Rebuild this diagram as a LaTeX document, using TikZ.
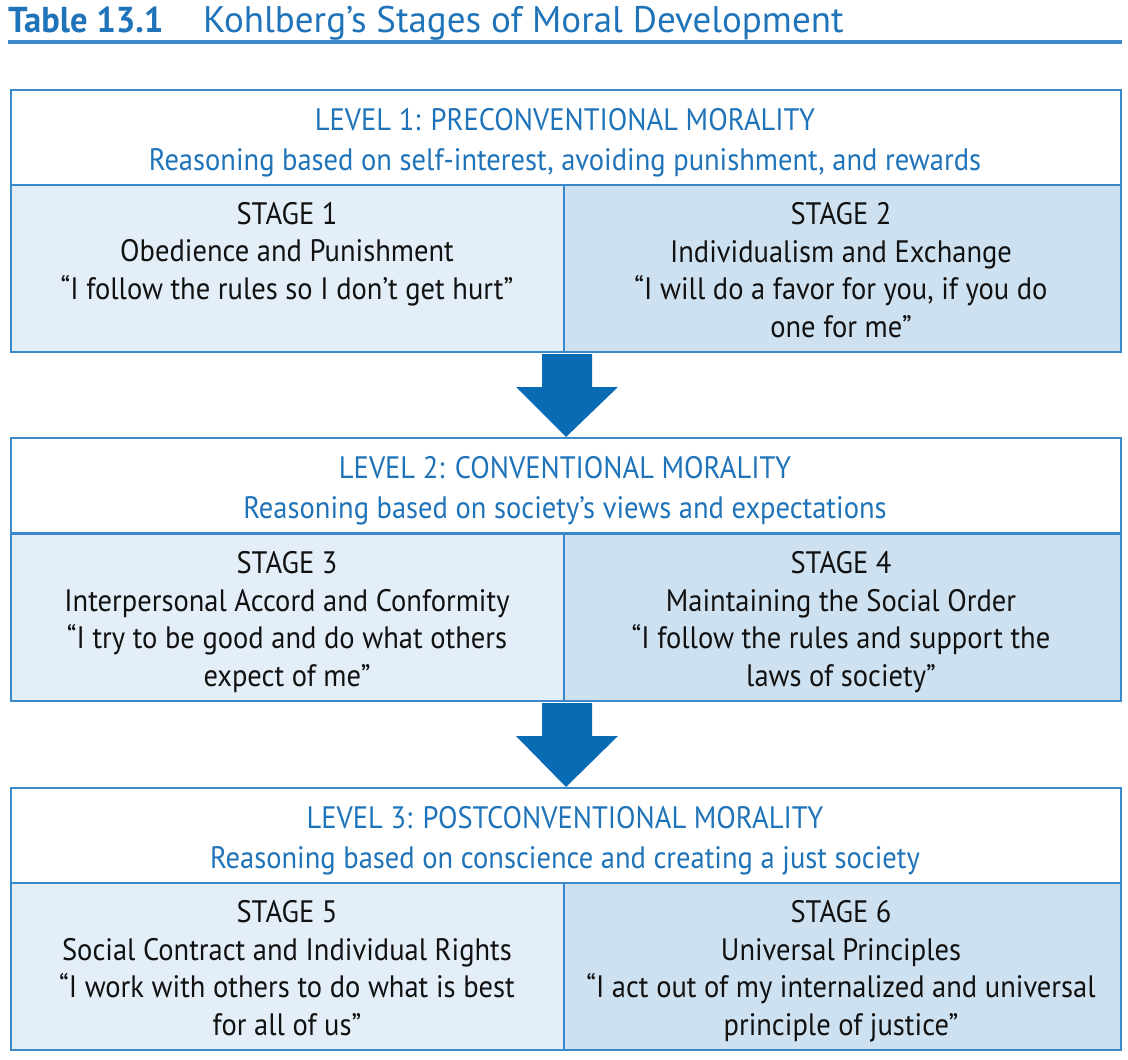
\documentclass[tikz,border=0pt]{standalone}
\usepackage{fontspec}
\setmainfont{PT Sans}
\newfontfamily\condfont[FakeStretch=0.92]{PT Sans}
\newfontfamily\titlebold[FakeStretch=0.96]{PT Sans Bold}
\usetikzlibrary{calc}
\definecolor{tblue}{HTML}{1F73B9}
\definecolor{bblue}{HTML}{3A89CA}
\definecolor{ablue}{HTML}{0A6BB5}
\definecolor{lfill}{HTML}{E4EEF8}
\definecolor{rfill}{HTML}{CEE1F0}
\definecolor{ink}{HTML}{111111}
\tikzset{
  hdrbox/.style={draw=bblue, line width=2pt, fill=white, anchor=north west, minimum width=1110pt, minimum height=95pt, inner sep=0pt},
  lcell/.style={draw=bblue, line width=2pt, fill=lfill, anchor=north west, minimum width=553pt, minimum height=167pt, inner sep=0pt},
  rcell/.style={draw=bblue, line width=2pt, fill=rfill, anchor=north west, minimum width=557pt, minimum height=167pt, inner sep=0pt},
  hdrtext/.style={text=tblue, align=center, font=\condfont\fontsize{31}{40}\selectfont, anchor=base, inner sep=0pt},
  stgtext/.style={text=ink, align=center, font=\condfont\fontsize{31}{37.5}\selectfont, anchor=base, inner sep=0pt},
  downarrow/.style={fill=ablue, draw=none}
}
\begin{document}
\begin{tikzpicture}[x=1pt,y=-1pt]
\useasboundingbox (0,0) rectangle (1128,1060);
% title
\node[anchor=base west, inner sep=0pt, text=tblue, font=\titlebold\fontsize{36}{40}\selectfont] (tnum) at (8,32) {Table 13.1};
\node[anchor=base west, inner sep=0pt, text=tblue, font=\fontsize{37}{40}\selectfont] (ttl) at (203,32) {Kohlberg’s Stages of Moral Development};
\coordinate (ulL) at (8,42);
\coordinate (ulR) at (1122,42);
\draw[bblue, line width=4pt] (ulL) -- (ulR);

% level 1
\node[hdrbox] (h1) at (10,89) {};
\node[lcell] (s1) at (10,184) {};
\node[rcell] (s2) at (563,184) {};
\node[hdrtext] (h1t) at (565,170) {LEVEL 1: PRECONVENTIONAL MORALITY\\Reasoning based on self-interest, avoiding punishment, and rewards};
\node[stgtext] (s1t) at (287,299) {STAGE 1\\Obedience and Punishment\\“I follow the rules so I don’t get hurt”};
\node[stgtext] (s2t) at (841,337) {STAGE 2\\Individualism and Exchange\\“I will do a favor for you, if you do\\one for me”};

% level 2
\node[hdrbox] (h2) at (10,437) {};
\node[lcell] (s3) at (10,533) {};
\node[rcell] (s4) at (563,533) {};
\node[hdrtext] (h2t) at (565,518) {LEVEL 2: CONVENTIONAL MORALITY\\Reasoning based on society’s views and expectations};
\node[stgtext] (s3t) at (287,686) {STAGE 3\\Interpersonal Accord and Conformity\\“I try to be good and do what others\\expect of me”};
\node[stgtext] (s4t) at (841,686) {STAGE 4\\Maintaining the Social Order\\“I follow the rules and support the\\laws of society”};

% level 3
\node[hdrbox] (h3) at (10,787) {};
\node[lcell] (s5) at (10,882) {};
\node[rcell] (s6) at (563,882) {};
\node[hdrtext] (h3t) at (565,868) {LEVEL 3: POSTCONVENTIONAL MORALITY\\Reasoning based on conscience and creating a just society};
\node[stgtext] (s5t) at (287,1035) {STAGE 5\\Social Contract and Individual Rights\\“I work with others to do what is best\\for all of us”};
\node[stgtext] (s6t) at (841,1035) {STAGE 6\\Universal Principles\\“I act out of my internalized and universal\\principle of justice”};

% arrows
\coordinate (a1top) at ($(s1.south east)+(2,1)$);
\coordinate (a1tip) at ($(h2.north)$);
\fill[downarrow] ($(a1top)+(-25,0)$) -- ($(a1top)+(25,0)$) -- ($(a1top)+(25,33)$) -- ($(a1top)+(51,33)$)
  -- (a1tip) -- ($(a1top)+(-51,33)$) -- ($(a1top)+(-25,33)$) -- cycle;
\coordinate (a2top) at ($(s3.south east)+(2,1)$);
\coordinate (a2tip) at ($(h3.north)$);
\fill[downarrow] ($(a2top)+(-25,0)$) -- ($(a2top)+(25,0)$) -- ($(a2top)+(25,33)$) -- ($(a2top)+(51,33)$)
  -- (a2tip) -- ($(a2top)+(-51,33)$) -- ($(a2top)+(-25,33)$) -- cycle;
\end{tikzpicture}
\end{document}
